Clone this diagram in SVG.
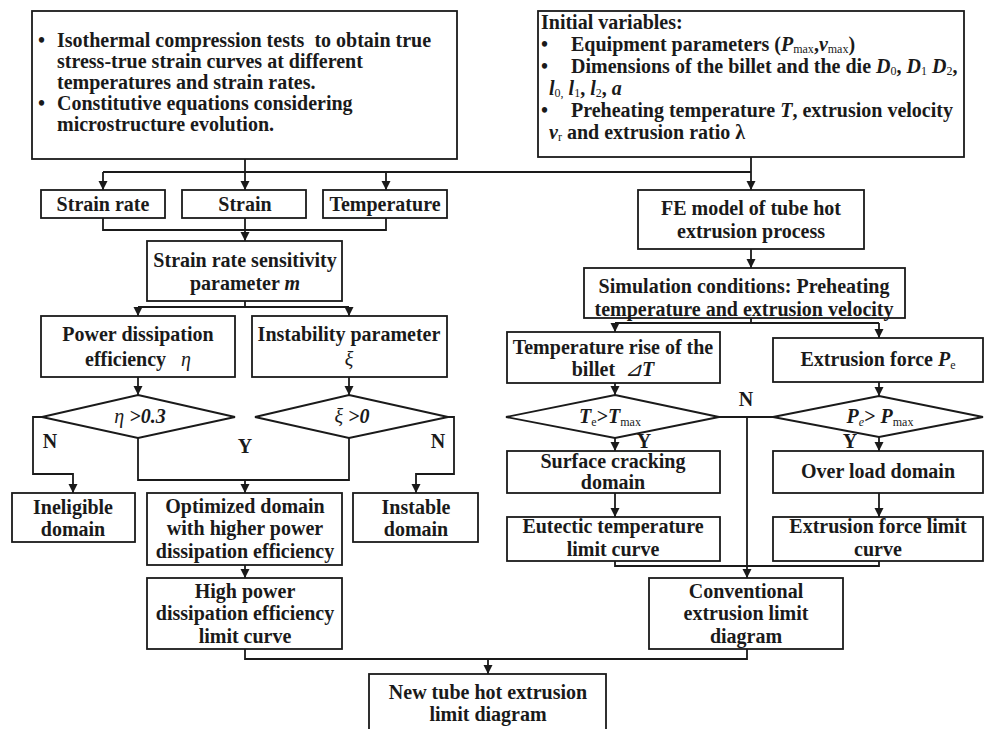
<svg xmlns="http://www.w3.org/2000/svg" width="984" height="729" viewBox="0 0 984 729">
<style>
.box{fill:#fff;stroke:#1a1a1a;stroke-width:1.8}
.ln{fill:none;stroke:#1a1a1a;stroke-width:1.8}
text{font-family:"Liberation Serif","Times New Roman",serif;font-weight:bold;font-size:20px;fill:#1a1a1a}
.c{text-anchor:middle}
.i{font-style:italic}
.g{font-style:italic;font-weight:normal}
.s{font-size:12px;font-weight:normal}
</style>
<defs>
<marker id="ah" markerUnits="userSpaceOnUse" markerWidth="10" markerHeight="10" refX="9" refY="4.5" orient="auto">
<path d="M0,0 L9,4.5 L0,9 z" fill="#1a1a1a"/>
</marker>
</defs>
<rect width="984" height="729" fill="#fff"/>

<g id="connectors">
<path class="ln" d="M245,159 V172 M103,172 H751 M751,157 V172"/>
<path class="ln" marker-end="url(#ah)" d="M751,172 V190"/>
<path class="ln" marker-end="url(#ah)" d="M103,172 V190"/>
<path class="ln" marker-end="url(#ah)" d="M245,172 V190"/>
<path class="ln" marker-end="url(#ah)" d="M386,172 V190"/>
<path class="ln" d="M103,218 V230 H386 V218"/>
<path class="ln" marker-end="url(#ah)" d="M245,218 V241"/>
<path class="ln" d="M245,301 V307 M138,307 H349"/>
<path class="ln" marker-end="url(#ah)" d="M138,307 V316"/>
<path class="ln" marker-end="url(#ah)" d="M349,307 V316"/>
<path class="ln" marker-end="url(#ah)" d="M138,377 V395"/>
<path class="ln" marker-end="url(#ah)" d="M349,377 V395"/>
<path class="ln" marker-end="url(#ah)" d="M42,417 H33 V474 H73 V493"/>
<path class="ln" marker-end="url(#ah)" d="M448,417 H454 V474 H416 V493"/>
<path class="ln" d="M138,438 V480 H349 V438"/>
<path class="ln" marker-end="url(#ah)" d="M245,480 V493"/>
<path class="ln" marker-end="url(#ah)" d="M245,565 V578"/>
<path class="ln" d="M245,649 V659 H747 V649"/>
<path class="ln" marker-end="url(#ah)" d="M488,659 V674"/>
<path class="ln" marker-end="url(#ah)" d="M751,249 V268"/>
<path class="ln" d="M751,318 V323 M615,323 H879"/>
<path class="ln" marker-end="url(#ah)" d="M615,323 V332"/>
<path class="ln" marker-end="url(#ah)" d="M879,323 V338"/>
<path class="ln" marker-end="url(#ah)" d="M615,383 V395"/>
<path class="ln" marker-end="url(#ah)" d="M879,382 V396"/>
<path class="ln" d="M719,417 H773"/>
<path class="ln" marker-end="url(#ah)" d="M747,417 V578"/>
<path class="ln" marker-end="url(#ah)" d="M615,438 V451"/>
<path class="ln" marker-end="url(#ah)" d="M879,437 V451"/>
<path class="ln" marker-end="url(#ah)" d="M615,493 V517"/>
<path class="ln" marker-end="url(#ah)" d="M879,493 V517"/>
<path class="ln" d="M615,561 V566 H879 V561"/>
<text x="50" y="448" class="c">N</text>
<text x="245" y="453" class="c">Y</text>
<text x="438" y="448" class="c">N</text>
<text x="746" y="406" class="c">N</text>
<text x="644" y="448" class="c">Y</text>
<text x="850" y="448" class="c">Y</text>
</g>

<g id="n_tests">
<rect class="box" x="32" y="11" width="425" height="148"/>
<text x="38" y="47">•</text><text x="57" y="47" xml:space="preserve">Isothermal compression tests  to obtain true</text>
<text x="57" y="68">stress-true strain curves at different</text>
<text x="57" y="89">temperatures and strain rates.</text>
<text x="38" y="110">•</text><text x="57" y="110">Constitutive equations considering</text>
<text x="57" y="131">microstructure evolution.</text>
</g>

<g id="n_init">
<rect class="box" x="538" y="11" width="426" height="146"/>
<text x="541" y="29">Initial variables:</text>
<text x="541" y="51">•</text><text x="571" y="51">Equipment parameters (<tspan class="i">P</tspan><tspan class="s" dy="1.5">max</tspan><tspan dy="-1.5">,</tspan><tspan class="i">v</tspan><tspan class="s" dy="1.5">max</tspan><tspan dy="-1.5">)</tspan></text>
<text x="541" y="73">•</text><text x="571" y="73">Dimensions of the billet and the die <tspan class="i">D</tspan><tspan class="s" dy="1.5">0</tspan><tspan dy="-1.5">, </tspan><tspan class="i">D</tspan><tspan class="s" dy="1.5">1</tspan><tspan dy="-1.5"> </tspan><tspan class="i">D</tspan><tspan class="s" dy="1.5">2</tspan><tspan dy="-1.5">,</tspan></text>
<text x="549" y="95"><tspan class="i">l</tspan><tspan class="s" dy="1.5">0,</tspan><tspan dy="-1.5"> </tspan><tspan class="i">l</tspan><tspan class="s" dy="1.5">1</tspan><tspan dy="-1.5">, </tspan><tspan class="i">l</tspan><tspan class="s" dy="1.5">2</tspan><tspan dy="-1.5">, </tspan><tspan class="i">a</tspan></text>
<text x="541" y="117">•</text><text x="571" y="117">Preheating temperature <tspan class="i">T</tspan>, extrusion velocity</text>
<text x="549" y="139"><tspan class="i">v</tspan><tspan class="s" dy="1.5">r</tspan><tspan dy="-1.5"> and extrusion ratio λ</tspan></text>
</g>

<g id="n_srate"><rect class="box" x="41" y="190" width="124" height="28"/><text x="103" y="211" class="c">Strain rate</text></g>
<g id="n_strain"><rect class="box" x="182" y="190" width="124" height="28"/><text x="245" y="211" class="c">Strain</text></g>
<g id="n_temp"><rect class="box" x="323" y="190" width="124" height="28"/><text x="385" y="211" class="c">Temperature</text></g>

<g id="n_m"><rect class="box" x="147" y="241" width="195" height="60"/>
<text x="245" y="267" class="c">Strain rate sensitivity</text>
<text x="245" y="290" class="c">parameter <tspan class="i">m</tspan></text></g>

<g id="n_eta"><rect class="box" x="41" y="316" width="194" height="61"/>
<text x="138" y="341" class="c">Power dissipation</text>
<text x="138" y="366" class="c" xml:space="preserve">efficiency   <tspan class="g">η</tspan></text></g>

<g id="n_xi"><rect class="box" x="252" y="316" width="195" height="61"/>
<text x="349" y="341" class="c">Instability parameter</text>
<text x="349" y="366" class="c"><tspan class="g">ξ</tspan></text></g>

<g id="d_eta"><polygon class="box" points="138,395 235,417 138,438 42,417"/>
<text x="140" y="423" class="c"><tspan class="g">η</tspan><tspan class="i"> &gt;0.3</tspan></text></g>

<g id="d_xi"><polygon class="box" points="349,395 448,417 349,438 255,417"/>
<text x="352" y="423" class="c"><tspan class="g">ξ</tspan><tspan class="i"> &gt;0</tspan></text></g>

<g id="n_inel"><rect class="box" x="12" y="493" width="123" height="49"/>
<text x="73" y="514" class="c">Ineligible</text><text x="73" y="536" class="c">domain</text></g>

<g id="n_opt"><rect class="box" x="147" y="493" width="195" height="72"/>
<text x="245" y="513" class="c">Optimized domain</text>
<text x="245" y="535" class="c">with higher power</text>
<text x="245" y="558" class="c">dissipation efficiency</text></g>

<g id="n_inst"><rect class="box" x="353" y="493" width="125" height="49"/>
<text x="416" y="514" class="c">Instable</text><text x="416" y="536" class="c">domain</text></g>

<g id="n_high"><rect class="box" x="147" y="578" width="195" height="71"/>
<text x="245" y="598" class="c">High power</text>
<text x="245" y="620" class="c">dissipation efficiency</text>
<text x="245" y="643" class="c">limit curve</text></g>

<g id="n_new"><rect class="box" x="369" y="674" width="237" height="62"/>
<text x="488" y="699" class="c">New tube hot extrusion</text>
<text x="488" y="721" class="c">limit diagram</text></g>

<g id="n_fe"><rect class="box" x="638" y="190" width="226" height="59"/>
<text x="751" y="215" class="c">FE model of tube hot</text>
<text x="751" y="238" class="c">extrusion process</text></g>

<g id="n_sim"><rect class="box" x="584" y="268" width="321" height="50"/>
<text x="744" y="293" class="c">Simulation conditions: Preheating</text>
<text x="744" y="316" class="c">temperature and extrusion velocity</text></g>

<g id="n_trise"><rect class="box" x="507" y="332" width="213" height="51"/>
<text x="613" y="354" class="c">Temperature rise of the</text>
<text x="613" y="376" class="c" xml:space="preserve">billet  <tspan class="g">⊿</tspan><tspan class="i">T</tspan></text></g>

<g id="n_force"><rect class="box" x="773" y="338" width="210" height="44"/>
<text x="878" y="366" class="c">Extrusion force <tspan class="i">P</tspan><tspan class="s" dy="3">e</tspan></text></g>

<g id="d_te"><polygon class="box" points="615,395 719,417 615,438 506,417"/>
<text x="610" y="423" class="c"><tspan class="i">T</tspan><tspan class="s" dy="3">e</tspan><tspan dy="-3">&gt;</tspan><tspan class="i">T</tspan><tspan class="s" dy="3">max</tspan></text></g>

<g id="d_pe"><polygon class="box" points="879,396 983,417 879,437 773,417"/>
<text x="880" y="423" class="c"><tspan class="i">P</tspan><tspan class="s g" dy="3">e</tspan><tspan dy="-3">&gt; </tspan><tspan class="i">P</tspan><tspan class="s" dy="3">max</tspan></text></g>

<g id="n_crack"><rect class="box" x="507" y="451" width="213" height="42"/>
<text x="613" y="468" class="c">Surface cracking</text>
<text x="613" y="489" class="c">domain</text></g>

<g id="n_overload"><rect class="box" x="773" y="451" width="210" height="42"/>
<text x="878" y="478" class="c">Over load domain</text></g>

<g id="n_eut"><rect class="box" x="507" y="517" width="213" height="44"/>
<text x="613" y="533" class="c">Eutectic temperature</text>
<text x="613" y="556" class="c">limit curve</text></g>

<g id="n_flimit"><rect class="box" x="773" y="517" width="210" height="44"/>
<text x="878" y="533" class="c">Extrusion force limit</text>
<text x="878" y="556" class="c">curve</text></g>

<g id="n_conv"><rect class="box" x="649" y="578" width="194" height="71"/>
<text x="746" y="598" class="c">Conventional</text>
<text x="746" y="620" class="c">extrusion limit</text>
<text x="746" y="643" class="c">diagram</text></g>
</svg>
